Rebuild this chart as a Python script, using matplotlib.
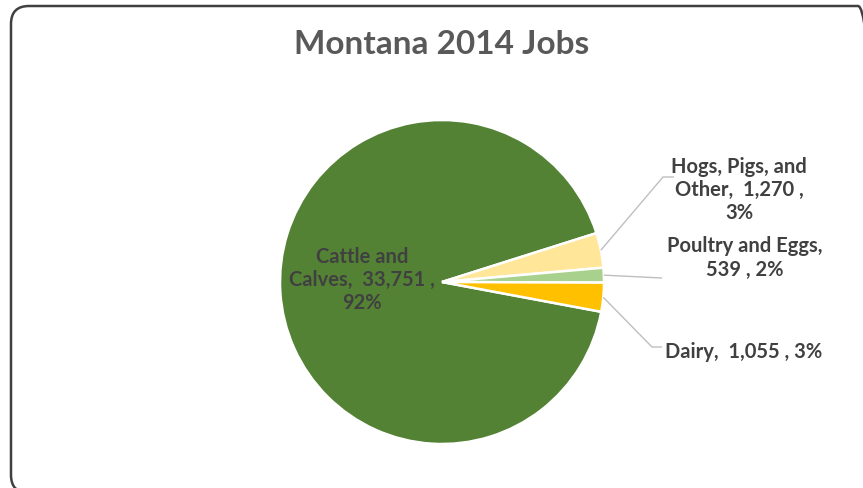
import numpy as np
import matplotlib
matplotlib.use("Agg")
import matplotlib.pyplot as plt
from matplotlib.patches import FancyBboxPatch
from matplotlib.transforms import IdentityTransform

# ---- data ----
categories = ["Cattle and Calves", "Hogs, Pigs, and Other", "Poultry and Eggs", "Dairy"]
jobs = [33751, 1270, 539, 1055]
pct_labels = [92, 3, 2, 3]
colors = ["#548235", "#FFE699", "#A9D18E", "#FFC000"]
title = "Montana 2014 Jobs"

W, H = 863, 488
fig = plt.figure(figsize=(W / 100, H / 100), dpi=100)
fig.patch.set_facecolor("white")

# pie centre / radius in pixels
cx, cy, R = 442, 282, 162
ax = fig.add_axes([0, 0, 1, 1])


def px(x, y):
    return ((x - cx) / R, (cy - y) / R)


wedges, _ = ax.pie(jobs, colors=colors, startangle=-10.6, counterclock=False,
                   radius=1.0, center=(0, 0), frame=True,
                   wedgeprops=dict(edgecolor="white", linewidth=1.8))
ax.set_xlim(-cx / R, (W - cx) / R)
ax.set_ylim(-(H - cy) / R, cy / R)
ax.set_aspect("auto")
ax.axis("off")

font = ["Lato", "DejaVu Sans"]
txtcol = "#404040"
fs = 14.5

def fmt(v):
    return f"{v:,}"

labels = [
    f"Cattle and\nCalves,  {fmt(jobs[0])} ,\n{pct_labels[0]}%",
    f"Hogs, Pigs, and\nOther,  {fmt(jobs[1])} ,\n{pct_labels[1]}%",
    f"Poultry and Eggs,\n{fmt(jobs[2])} , {pct_labels[2]}%",
    f"Dairy,  {fmt(jobs[3])} , {pct_labels[3]}%",
]
label_pos = [(362, 280), (739, 190), (745, 258), (744, 352)]
for lab, (x, y) in zip(labels, label_pos):
    ax.text(*px(x, y), lab, ha="center", va="center", fontsize=fs,
            fontweight="bold", color=txtcol, family=font, linespacing=1.2)

# leader lines
leader_pts = [None,
              [(663, 177), (674, 177)],
              [(662, 278)],
              [(652, 347), (662, 347)]]
for w, pts in zip(wedges, leader_pts):
    if pts is None:
        continue
    ang = np.deg2rad((w.theta1 + w.theta2) / 2)
    xs = [np.cos(ang)] + [px(*p)[0] for p in pts]
    ys = [np.sin(ang)] + [px(*p)[1] for p in pts]
    ax.plot(xs, ys, color="#BFBFBF", linewidth=1.0, solid_capstyle="butt")

ax.text(*px(442, 45), title, ha="center", va="center", fontsize=24,
        fontweight="bold", color="#595959", family=font)

# rounded chart border (pixel coordinates)
x0, x1, ytop, ybot = 11, 876, 6, 493
border = FancyBboxPatch((x0, H - ybot), x1 - x0, ybot - ytop,
                        boxstyle="round,pad=0,rounding_size=18",
                        transform=IdentityTransform(), facecolor="none",
                        edgecolor="#404040", linewidth=1.8)
fig.add_artist(border)

fig.savefig("out.png", dpi=100, facecolor="white")
